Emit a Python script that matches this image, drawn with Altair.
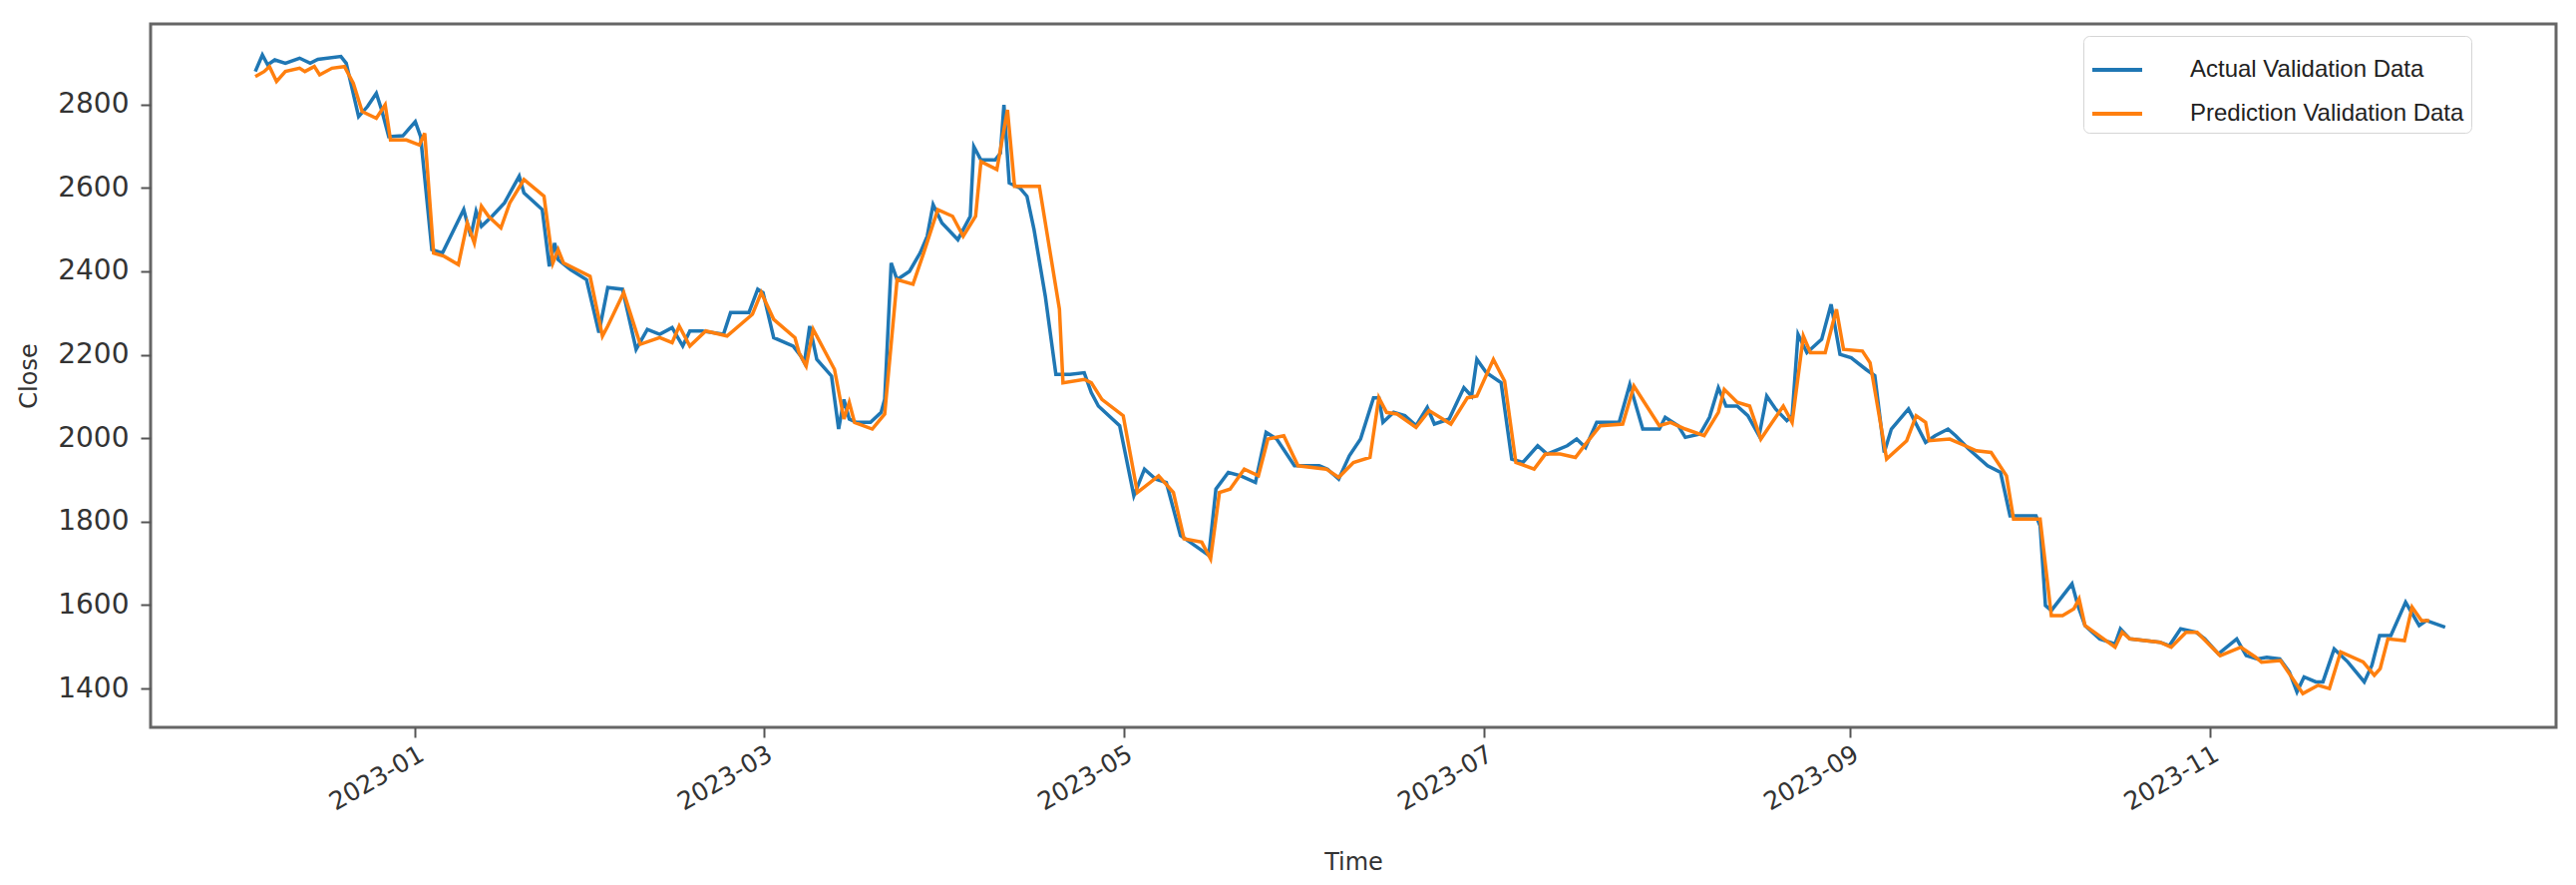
import altair as alt
import pandas as pd

# Time of each reading, in days counted from 2023-01-01 (negative = December 2022)
actual_day = [
    -27.1, -25.9, -25.0, -23.8, -22.0, -19.6, -17.8, -16.5, -12.6, -11.7,
    -9.6, -8.1, -6.6, -5.7, -4.5, -2.1, 0.0, 0.9, 2.8, 4.6,
    8.2, 9.4, 10.3, 11.2, 13.0, 15.1, 17.6, 18.4, 21.5, 22.7,
    23.6, 24.2, 26.3, 29.0, 31.1, 32.6, 35.1, 37.4, 39.3, 41.4,
    43.5, 45.3, 46.5, 48.6, 52.2, 53.4, 56.5, 58.0, 58.9, 60.7,
    64.0, 65.3, 65.9, 66.8, 68.0, 70.5, 71.7, 72.6, 73.5, 74.7,
    77.1, 78.9, 79.5, 80.6, 81.6, 83.7, 85.5, 86.7, 87.7, 89.2,
    91.9, 94.0, 94.6, 95.8, 98.2, 99.1, 99.7, 100.6, 102.4, 103.6,
    104.8, 106.7, 108.5, 110.9, 113.3, 114.5, 115.7, 119.3, 121.7, 123.5,
    125.4, 127.2, 129.6, 132.0, 134.4, 135.6, 137.7, 139.8, 142.3, 144.1,
    145.9, 148.9, 153.1, 154.5, 156.4, 158.2, 160.1, 162.3, 163.2, 163.9,
    165.7, 167.6, 169.5, 171.4, 172.6, 175.1, 177.6, 178.9, 179.8, 181.4,
    183.9, 185.7, 187.6, 190.1, 191.7, 195.1, 196.7, 198.2, 200.1, 203.9,
    205.7, 207.9, 210.7, 211.7, 213.9, 215.1, 217.6, 219.2, 220.7, 222.0,
    223.9, 225.7, 227.6, 228.9, 230.4, 232.3, 233.2, 234.2, 235.7, 238.2,
    239.8, 241.3, 243.2, 245.7, 247.2, 248.8, 250.0, 252.9, 255.8, 257.4,
    259.6, 260.9, 263.1, 266.3, 268.5, 270.1, 272.0, 274.5, 275.2, 276.1,
    277.1, 280.6, 281.6, 282.8, 285.3, 287.9, 288.8, 290.4, 293.0, 295.5,
    297.1, 299.0, 301.6, 303.1, 305.4, 308.5, 310.1, 312.0, 313.6, 315.8,
    317.4, 318.7, 319.9, 321.9, 323.1, 325.0, 327.3, 330.1, 331.4, 332.7,
    334.6, 337.1, 339.4, 340.6, 343.8,
]
actual_close = [
    2879, 2919, 2895, 2907, 2899, 2911, 2899, 2908, 2915, 2899,
    2771, 2795, 2827, 2787, 2723, 2725, 2759, 2723, 2452, 2444,
    2548, 2484, 2544, 2508, 2532, 2564, 2628, 2588, 2548, 2412,
    2468, 2428, 2404, 2380, 2253, 2361, 2357, 2213, 2261, 2249,
    2265, 2221, 2257, 2257, 2249, 2301, 2301, 2357, 2349, 2241,
    2221, 2197, 2181, 2269, 2189, 2149, 2022, 2093, 2046, 2038,
    2038, 2062, 2093, 2420, 2380, 2400, 2444, 2484, 2560, 2516,
    2476, 2532, 2699, 2667, 2667, 2683, 2799, 2612, 2600, 2580,
    2500, 2341, 2153, 2153, 2157, 2109, 2077, 2030, 1862, 1926,
    1902, 1894, 1767, 1743, 1719, 1878, 1918, 1910, 1894, 2014,
    1998, 1934, 1934, 1926, 1902, 1958, 1998, 2097, 2097, 2038,
    2062, 2054, 2030, 2074, 2034, 2046, 2121, 2101, 2189, 2157,
    2133, 1950, 1942, 1982, 1962, 1982, 1998, 1978, 2038, 2038,
    2129, 2022, 2022, 2050, 2030, 2002, 2010, 2050, 2121, 2077,
    2077, 2054, 2006, 2101, 2070, 2042, 2054, 2249, 2205, 2237,
    2321, 2201, 2193, 2165, 2150, 1966, 2022, 2070, 1990, 2006,
    2022, 2006, 1974, 1934, 1918, 1814, 1814, 1814, 1790, 1599,
    1587, 1651, 1599, 1551, 1519, 1507, 1543, 1519, 1515, 1511,
    1503, 1543, 1535, 1519, 1483, 1519, 1479, 1471, 1475, 1471,
    1440, 1392, 1428, 1416, 1416, 1495, 1464, 1416, 1456, 1527,
    1527, 1607, 1551, 1563, 1547,
]

pred_day = [
    -27.1, -25.6, -24.7, -23.5, -22.0, -19.6, -18.7, -17.1, -16.2, -14.1,
    -12.0, -10.5, -9.0, -6.6, -5.1, -4.2, -1.5, 0.7, 1.6, 3.1,
    4.9, 7.3, 8.8, 10.0, 11.2, 12.4, 14.5, 16.0, 18.4, 21.8,
    23.3, 24.2, 25.1, 29.6, 31.7, 32.6, 35.3, 38.1, 41.4, 43.5,
    44.7, 46.5, 49.2, 52.8, 57.1, 58.6, 60.7, 64.3, 65.0, 66.2,
    67.4, 71.0, 72.6, 73.5, 74.4, 77.4, 79.5, 81.6, 84.3, 86.1,
    88.5, 91.0, 92.8, 94.9, 95.8, 98.5, 100.3, 101.5, 105.7, 109.1,
    109.7, 113.3, 114.5, 116.3, 119.9, 122.3, 125.9, 128.4, 130.2, 133.2,
    134.7, 136.2, 138.0, 140.4, 142.8, 144.4, 147.1, 149.5, 154.3, 156.4,
    158.9, 161.7, 163.2, 164.5, 166.3, 169.5, 171.7, 175.4, 178.2, 179.8,
    182.6, 184.5, 186.4, 189.5, 191.4, 193.9, 196.5, 198.2, 200.7, 204.5,
    206.4, 210.7, 212.6, 215.1, 218.3, 220.7, 221.7, 223.9, 226.0, 227.9,
    231.7, 233.2, 235.1, 236.3, 238.8, 240.7, 241.9, 245.1, 246.4, 249.2,
    252.6, 254.2, 255.8, 256.4, 259.9, 262.5, 264.4, 266.9, 269.5, 270.7,
    275.2, 277.1, 279.0, 280.9, 281.8, 282.8, 287.9, 289.1, 290.4, 295.5,
    297.4, 299.9, 301.8, 305.7, 309.2, 311.7, 312.7, 315.9, 319.7, 322.3,
    324.2, 326.1, 329.9, 331.8, 332.8, 334.1, 336.9, 338.2, 339.8, 341.1,
]
pred_close = [
    2867, 2879, 2891, 2855, 2879, 2887, 2879, 2891, 2871, 2887,
    2891, 2851, 2783, 2767, 2799, 2715, 2715, 2703, 2731, 2444,
    2436, 2416, 2516, 2468, 2556, 2532, 2504, 2564, 2620, 2580,
    2420, 2452, 2420, 2388, 2245, 2269, 2349, 2225, 2241, 2229,
    2269, 2221, 2257, 2245, 2297, 2349, 2285, 2241, 2205, 2173,
    2261, 2165, 2046, 2086, 2038, 2022, 2058, 2380, 2369, 2444,
    2548, 2532, 2484, 2532, 2663, 2644, 2787, 2604, 2604, 2309,
    2133, 2141, 2133, 2093, 2054, 1870, 1910, 1870, 1759, 1751,
    1711, 1870, 1878, 1926, 1910, 1998, 2006, 1934, 1926, 1906,
    1942, 1954, 2097, 2062, 2058, 2026, 2066, 2034, 2097, 2101,
    2189, 2137, 1942, 1926, 1962, 1962, 1954, 1986, 2030, 2034,
    2125, 2030, 2038, 2022, 2006, 2062, 2117, 2086, 2077, 1998,
    2077, 2038, 2245, 2205, 2205, 2309, 2213, 2209, 2181, 1950,
    1994, 2054, 2038, 1994, 1998, 1982, 1970, 1966, 1910, 1806,
    1806, 1575, 1575, 1591, 1615, 1551, 1499, 1535, 1519, 1511,
    1499, 1535, 1535, 1479, 1499, 1475, 1463, 1467, 1388, 1408,
    1400, 1488, 1464, 1432, 1448, 1519, 1515, 1595, 1563, 1563,
]

series_names = ["Actual Validation Data", "Prediction Validation Data"]
series_colors = ["#1f77b4", "#ff7f0e"]
y_ticks = [1400, 1600, 1800, 2000, 2200, 2400, 2600, 2800]
x_tick_months = [1, 3, 5, 7, 9, 11]

base = pd.Timestamp("2023-01-01")


def make_frame(days, values, name):
    t = base + pd.to_timedelta(days, unit="D")
    return pd.DataFrame({
        "Time": t.strftime("%Y-%m-%dT%H:%M:%S"),
        "Close": values,
        "Series": name,
    })


df = pd.concat([
    make_frame(actual_day, actual_close, series_names[0]),
    make_frame(pred_day, pred_close, series_names[1]),
], ignore_index=True)

x_axis = alt.Axis(
    values=[alt.DateTime(year=2023, month=m, date=1) for m in x_tick_months],
    format="%Y-%m",
    labelAngle=330,
    labelAlign="right",
    labelBaseline="top",
    labelFontSize=25,
    labelPadding=4,
    tickSize=10,
    grid=False,
    domain=False,
    title="Time",
    titleFontSize=24,
    titlePadding=36,
    labelOverlap=False,
    labelFlush=False,
)

y_axis = alt.Axis(
    values=y_ticks,
    format="d",
    labelFontSize=28,
    labelPadding=12,
    tickSize=10,
    grid=False,
    domain=False,
    title="Close",
    titleFontSize=24,
    titlePadding=16,
)

chart = alt.Chart(df).mark_line(strokeWidth=3.5).encode(
    x=alt.X(
        "Time:T",
        scale=alt.Scale(domain=[
            alt.DateTime(year=2022, month=11, date=17, hours=4),
            alt.DateTime(year=2023, month=12, date=29, hours=14),
        ]),
        axis=x_axis,
    ),
    y=alt.Y(
        "Close:Q",
        scale=alt.Scale(domain=[1307, 2993], nice=False, zero=False),
        axis=y_axis,
    ),
    color=alt.Color(
        "Series:N",
        scale=alt.Scale(domain=series_names, range=series_colors),
        legend=alt.Legend(
            title=None,
            orient="none",
            legendX=1938,
            legendY=12,
            symbolType="stroke",
            symbolSize=2500,
            symbolStrokeWidth=4,
            labelFontSize=24,
            labelFont="Liberation Sans",
            labelColor="#222222",
            labelLimit=600,
            labelOffset=46,
            padding=7,
            rowPadding=5,
            strokeColor="#d5d5d5",
            fillColor="white",
            cornerRadius=6,
        ),
    ),
).properties(
    width=2412,
    height=705,
    autosize=alt.AutoSizeParams(type="none"),
    padding={"left": 143, "top": 16, "right": 10, "bottom": 150},
).configure_view(
    stroke="#666666",
    strokeWidth=3,
).configure_axis(
    labelColor="#333333",
    titleColor="#333333",
    tickColor="#555555",
    tickWidth=2,
    labelFont="DejaVu Sans",
    titleFont="DejaVu Sans",
    titleFontWeight="normal",
)

chart.save("out.html", embed_options={"renderer": "svg", "actions": False})
